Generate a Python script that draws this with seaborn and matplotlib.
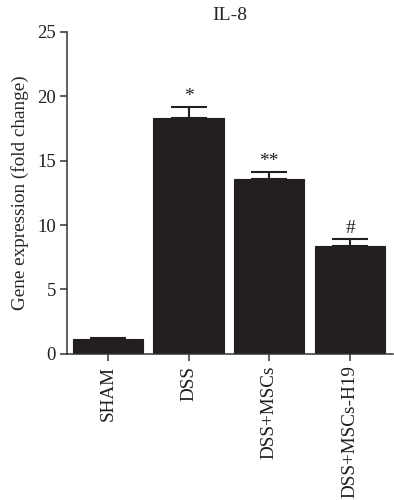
import matplotlib
matplotlib.use("Agg")
import matplotlib.pyplot as plt
import seaborn as sns
import pandas as pd
import numpy as np

groups = ["SHAM", "DSS", "DSS+MSCs", "DSS+MSCs-H19"]
means = [1.14, 18.29, 13.6, 8.34]
errs = [0.1, 0.9, 0.5, 0.57]
marks = ["", "*", "**", "#"]
yticks = [0, 5, 10, 15, 20, 25]

sns.set_theme(style="ticks")
plt.rcParams['font.family'] = ['Liberation Serif', 'DejaVu Serif']

df = pd.DataFrame({"group": groups, "value": means})

fig = plt.figure(figsize=(3.94, 5.0), dpi=100)
ax = fig.add_axes([0.170, 0.2926, 0.827, 0.6434])
bar_color = "#231f20"
sns.barplot(data=df, x="group", y="value", order=groups, color=bar_color,
            saturation=1, width=0.87, errorbar=None, ax=ax,
            edgecolor=bar_color, linewidth=0.8)
x = np.arange(len(groups))
ax.errorbar(x, means, yerr=[np.zeros(len(errs)), errs], fmt="none",
            ecolor=bar_color, elinewidth=1.5, capsize=13, capthick=1.5)
for xi, m, e, s in zip(x, means, errs, marks):
    if s:
        ax.text(xi, m + e + 0.15, s, ha="center", va="bottom", fontsize=14,
                color="#231f20")

ax.set_ylim(0, 25)
ax.set_xlim(-0.506, 3.53)
ax.set_yticks(yticks)
ax.set_yticklabels([str(t) for t in yticks], fontsize=13.5)
ax.set_xticks(x)
ax.set_xticklabels(groups, rotation=90, fontsize=13.8)
ax.set_xlabel("")
ax.set_ylabel("Gene expression (fold change)", fontsize=13.8, labelpad=6)
ax.set_title("IL-8", fontsize=14, pad=9)
for sp in ["top", "right"]:
    ax.spines[sp].set_visible(False)
for sp in ["left", "bottom"]:
    ax.spines[sp].set_linewidth(1.1)
    ax.spines[sp].set_color("#333333")
ax.tick_params(axis="both", length=5, width=1.1, color="#333333", colors="#231f20")
ax.tick_params(axis="y", pad=3)
fig.savefig("out.png", dpi=100)
